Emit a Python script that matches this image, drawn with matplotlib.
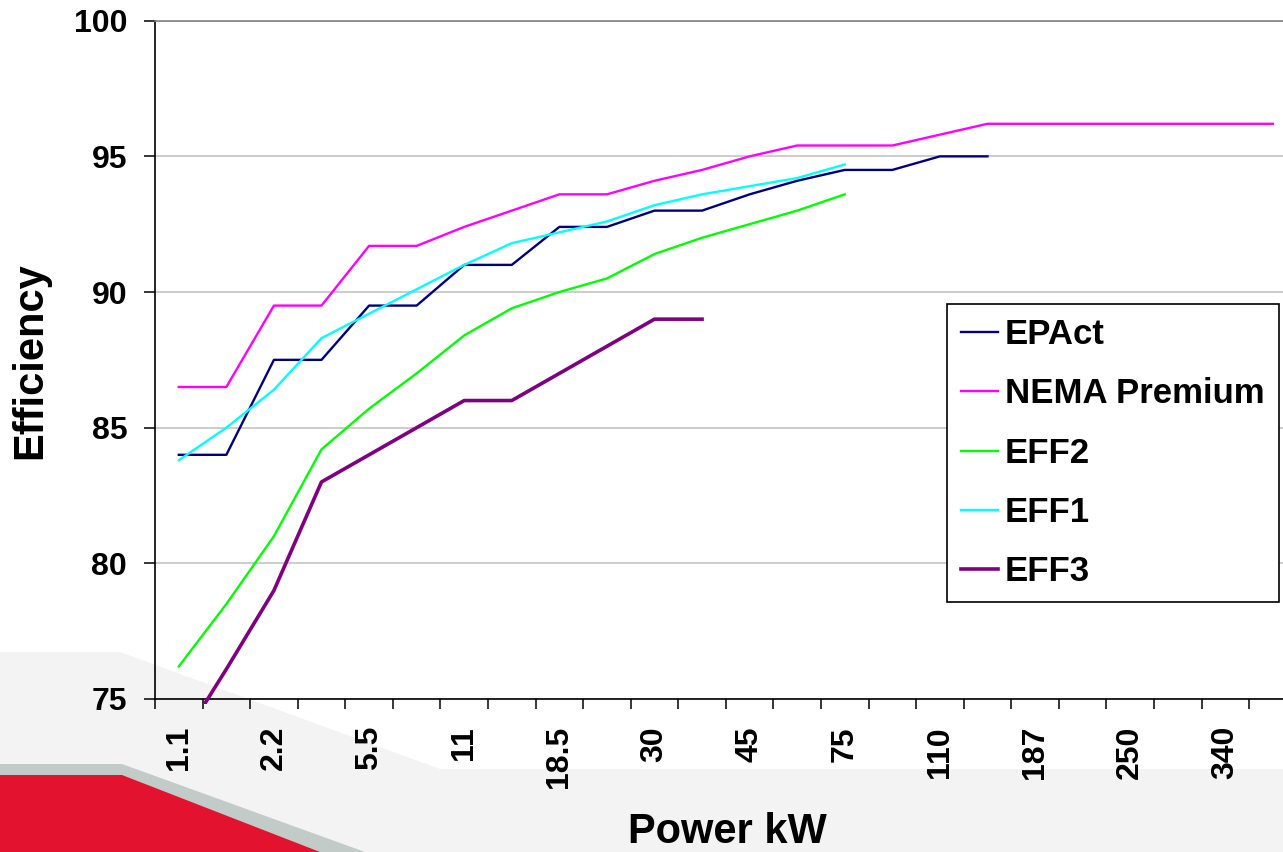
import matplotlib
matplotlib.use('Agg')
import numpy as np
import matplotlib.pyplot as plt
from matplotlib.patches import Polygon, Rectangle

# ---------------- data ----------------
categories = ['1.1', '1.5', '2.2', '4', '5.5', '7.5', '11', '15', '18.5', '22',
              '30', '37', '45', '55', '75', '90', '110', '150', '187', '224',
              '250', '300', '340', '375']
epact = [84.0, 84.0, 87.5, 87.5, 89.5, 89.5, 91.0, 91.0, 92.4, 92.4,
         93.0, 93.0, 93.6, 94.1, 94.5, 94.5, 95.0, 95.0]
nema_premium = [86.5, 86.5, 89.5, 89.5, 91.7, 91.7, 92.4, 93.0, 93.6, 93.6,
                94.1, 94.5, 95.0, 95.4, 95.4, 95.4, 95.8, 96.2, 96.2, 96.2,
                96.2, 96.2, 96.2, 96.2]
eff2 = [76.2, 78.5, 81.0, 84.2, 85.7, 87.0, 88.4, 89.4, 90.0, 90.5,
        91.4, 92.0, 92.5, 93.0, 93.6]
eff1 = [83.8, 85.0, 86.4, 88.3, 89.2, 90.1, 91.0, 91.8, 92.2, 92.6,
        93.2, 93.6, 93.9, 94.2, 94.7]
eff3 = [73.3, 76.1, 79.0, 83.0, 84.0, 85.0, 86.0, 86.0, 87.0, 88.0,
        89.0, 89.0]
series_names = ['EPAct', 'NEMA Premium', 'EFF2', 'EFF1', 'EFF3']
yticks = [75, 80, 85, 90, 95, 100]

# ---------------- figure ----------------
plt.rcParams['font.family'] = ['Liberation Sans', 'DejaVu Sans']
plt.rcParams['font.weight'] = 'bold'

W, H = 1283, 852
fig = plt.figure(figsize=(W / 100, H / 100), dpi=100)
fig.patch.set_facecolor('white')


def fp(pts):
    return [(x / W, 1 - y / H) for x, y in pts]


# decorative slide background
fig.add_artist(Polygon(fp([(0, 652), (120, 652), (440, 769), (W, 769), (W, H), (0, H)]),
                       closed=True, transform=fig.transFigure, facecolor='#f3f3f3',
                       edgecolor='none', zorder=-10))
fig.add_artist(Polygon(fp([(0, 764), (122, 764), (365, H), (0, H)]),
                       closed=True, transform=fig.transFigure, facecolor='#c3cbc9',
                       edgecolor='none', zorder=-9))
fig.add_artist(Polygon(fp([(0, 775), (122, 775), (320, H), (0, H)]),
                       closed=True, transform=fig.transFigure, facecolor='#e3132f',
                       edgecolor='none', zorder=-8))

ax_left, ax_bottom_px, ax_top_px = 155, 699, 20.7
cat_w = 47.57
ax = fig.add_axes([ax_left / W, 1 - ax_bottom_px / H,
                   len(categories) * cat_w / W, (ax_bottom_px - ax_top_px) / H])
ax.set_facecolor('none')

styles = [
    (epact, '#000080', 1.7),
    (nema_premium, '#FF00FF', 1.7),
    (eff2, '#00FF00', 1.7),
    (eff1, '#00FFFF', 1.7),
    (eff3, '#800080', 2.6),
]
for name, (vals, color, lw) in zip(series_names, styles):
    line, = ax.plot(np.arange(len(vals)), vals, color=color, lw=lw, label=name,
                    solid_joinstyle='round', zorder=3)
    clip = Rectangle((0, -0.008), 1, 1.008, transform=ax.transAxes)
    line.set_clip_path(clip)

ax.set_xlim(-0.5, len(categories) - 0.5)
ax.set_ylim(75, 100)

ax.set_yticks(yticks)
ax.yaxis.grid(True, color='#c4c4c4', lw=1.2)
ax.set_axisbelow(True)

ax.set_xticks(np.arange(0, len(categories), 2))
ax.set_xticklabels(categories[::2], rotation=90)
ax.set_xticks(np.arange(-0.5, len(categories), 1), minor=True)
ax.tick_params(axis='x', which='major', length=0, pad=19.5, labelsize=23)
ax.tick_params(axis='x', which='minor', length=7.5, width=1.1, direction='out')
ax.tick_params(axis='y', length=8, width=1.1, pad=12, labelsize=23)

for s in ['left', 'bottom']:
    ax.spines[s].set_color('black')
    ax.spines[s].set_linewidth(1.2)
ax.spines['top'].set_color('#808080')
ax.spines['top'].set_linewidth(1.2)
ax.spines['right'].set_visible(False)

leg = ax.legend(loc='upper left', bbox_to_anchor=(947 / W, 1 - 304 / H),
                bbox_transform=fig.transFigure, borderaxespad=0, frameon=True,
                fancybox=False, edgecolor='black', framealpha=1, facecolor='white',
                prop={'size': 25, 'weight': 'bold'}, handlelength=1.07,
                handletextpad=0.2, labelspacing=0.76, borderpad=0.4)
leg.get_frame().set_linewidth(1.2)

fig.text(30 / W, 1 - 361 / H, 'Efficiency', rotation=90, ha='center', va='center',
         fontsize=30, fontweight='bold')
fig.text(727 / W, 1 - 843 / H, 'Power kW', ha='center', va='baseline',
         fontsize=30, fontweight='bold')

fig.savefig('out.png', dpi=100)
